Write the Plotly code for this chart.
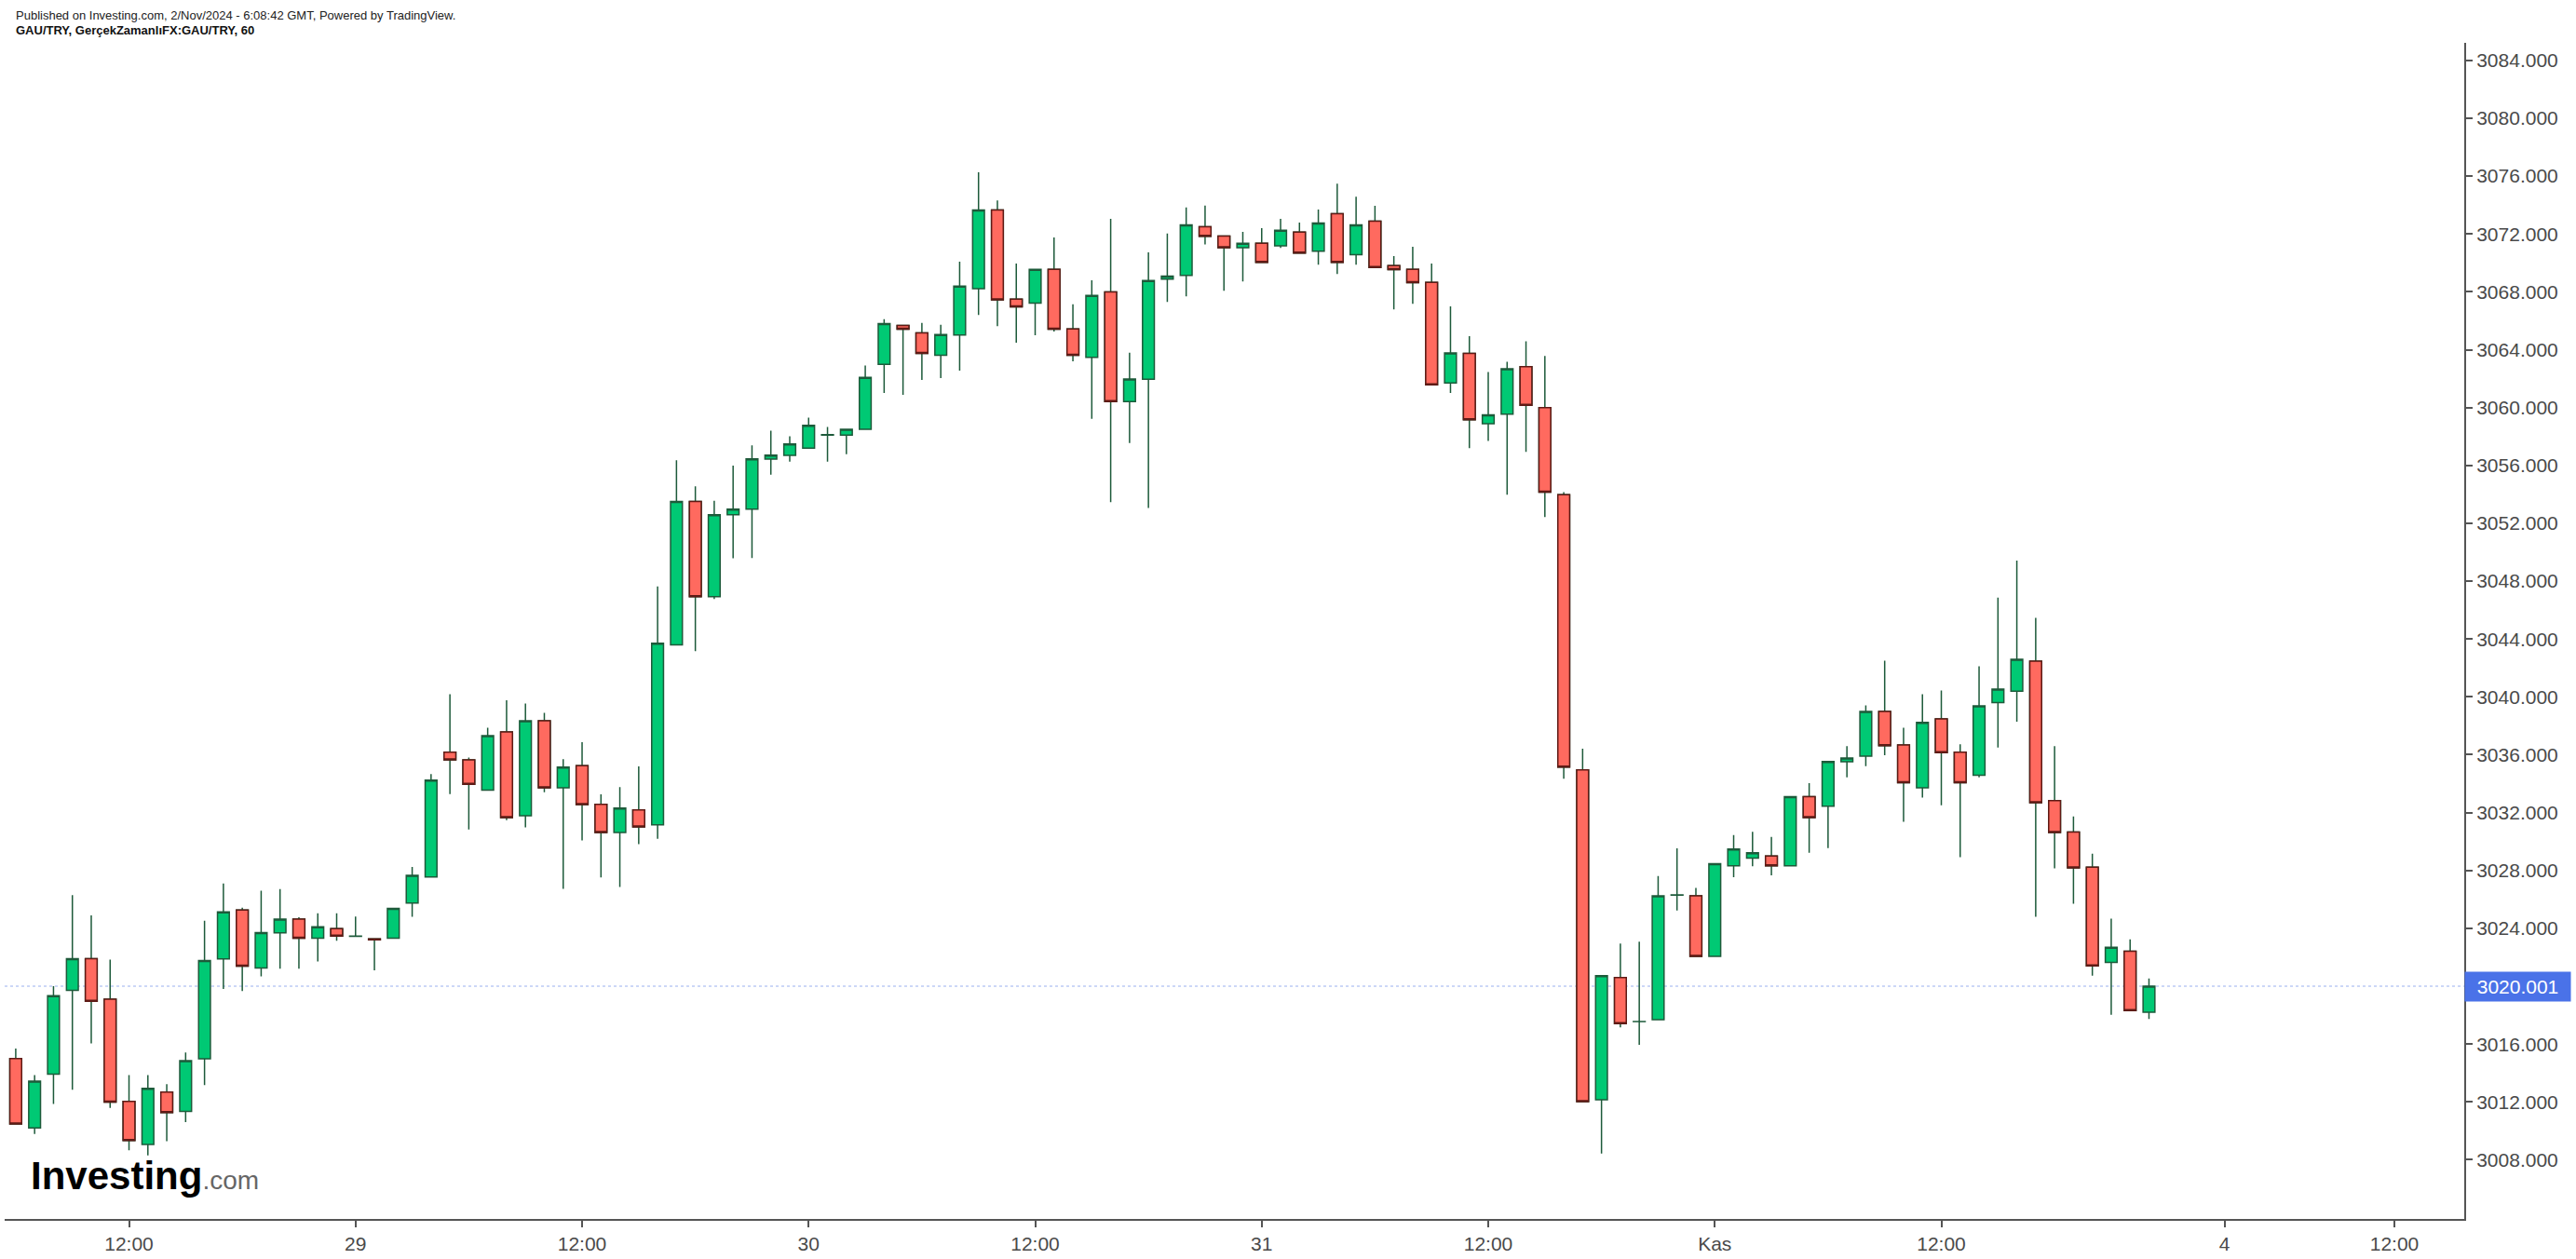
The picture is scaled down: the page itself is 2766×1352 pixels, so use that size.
import plotly.graph_objects as go

# ---- data (GAU/TRY, 60 min) ----
open_ = [3015.0, 3010.21, 3013.92, 3019.72, 3021.9, 3019.1, 3012.04, 3009.06, 3012.68, 3011.35,
         3014.98, 3021.88, 3025.27, 3021.26, 3023.69, 3024.63, 3023.32, 3023.98, 3023.44, 3023.27,
         3023.32, 3025.74, 3027.55, 3036.17, 3035.64, 3033.56, 3037.57, 3031.79, 3038.35, 3033.72,
         3035.25, 3032.57, 3030.62, 3032.18, 3031.15, 3043.6, 3053.5, 3046.92, 3052.59, 3052.97,
         3056.43, 3056.69, 3057.2, 3058.1, 3058.1, 3058.49, 3062.98, 3065.68, 3065.16, 3063.62,
         3065.01, 3068.22, 3073.66, 3067.5, 3067.22, 3069.55, 3065.44, 3063.47, 3067.99, 3060.41,
         3061.95, 3068.87, 3069.14, 3072.5, 3071.86, 3071.05, 3071.35, 3071.18, 3072.12, 3070.81,
         3073.4, 3070.56, 3072.89, 3069.81, 3069.55, 3068.65, 3061.7, 3063.74, 3058.88, 3059.54,
         3062.82, 3059.99, 3053.97, 3034.96, 3012.15, 3020.6, 3017.55, 3017.68, 3026.3, 3026.25,
         3022.06, 3028.33, 3028.86, 3029.0, 3028.33, 3033.11, 3032.44, 3035.51, 3035.9, 3038.99,
         3036.68, 3033.72, 3038.47, 3036.17, 3034.59, 3039.61, 3040.39, 3042.46, 3032.83, 3030.65,
         3028.22, 3021.64, 3022.42, 3018.2]
high = [3015.69, 3013.85, 3020.0, 3026.3, 3024.9, 3021.83, 3013.85, 3013.85, 3013.23, 3015.41,
        3024.53, 3027.1, 3025.43, 3026.6, 3026.71, 3024.76, 3025.04, 3025.04, 3024.81, 3023.3,
        3025.4, 3028.24, 3034.66, 3040.18, 3035.8, 3037.87, 3039.77, 3039.54, 3038.9, 3035.69,
        3036.86, 3033.26, 3033.76, 3035.19, 3047.63, 3056.35, 3054.56, 3053.55, 3055.98, 3057.38,
        3058.4, 3058.02, 3059.3, 3058.66, 3058.5, 3062.9, 3066.11, 3065.7, 3065.85, 3065.72,
        3070.08, 3076.27, 3074.32, 3069.96, 3069.55, 3071.75, 3067.13, 3068.8, 3073.04, 3063.79,
        3070.73, 3072.03, 3073.83, 3073.96, 3071.9, 3072.14, 3072.4, 3073.04, 3072.78, 3073.68,
        3075.48, 3074.58, 3073.94, 3070.47, 3071.11, 3069.96, 3067.0, 3064.94, 3062.46, 3063.17,
        3064.58, 3063.57, 3054.15, 3036.42, 3020.73, 3022.94, 3023.07, 3027.62, 3029.53, 3026.79,
        3028.47, 3030.45, 3030.68, 3030.32, 3033.11, 3034.04, 3035.55, 3036.59, 3039.41, 3042.5,
        3037.87, 3040.19, 3040.44, 3036.72, 3042.11, 3046.86, 3049.42, 3045.46, 3036.59, 3031.73,
        3029.16, 3024.67, 3023.24, 3020.54]
low = [3010.48, 3009.79, 3011.86, 3012.84, 3016.05, 3011.58, 3008.65, 3008.3, 3009.29, 3010.6,
       3013.16, 3019.81, 3019.67, 3020.68, 3021.21, 3021.21, 3021.71, 3023.14, 3023.44, 3021.1,
       3023.3, 3024.8, 3027.5, 3033.28, 3030.83, 3033.5, 3031.47, 3030.97, 3033.4, 3026.73,
       3030.07, 3027.51, 3026.86, 3029.82, 3030.19, 3043.6, 3043.16, 3046.76, 3049.58, 3049.6,
       3055.36, 3056.26, 3057.2, 3056.26, 3056.78, 3058.45, 3061.01, 3060.88, 3061.91, 3062.04,
       3062.55, 3066.4, 3065.63, 3064.48, 3064.99, 3065.25, 3063.2, 3059.22, 3053.46, 3057.55,
       3053.05, 3067.3, 3067.69, 3071.28, 3068.07, 3068.72, 3070.0, 3071.03, 3070.65, 3069.87,
       3069.23, 3069.87, 3069.65, 3066.79, 3067.17, 3061.55, 3061.01, 3057.2, 3057.69, 3053.97,
       3056.94, 3052.43, 3034.34, 3012.0, 3008.44, 3017.15, 3015.95, 3017.65, 3025.24, 3022.05,
       3022.05, 3027.54, 3028.29, 3027.67, 3028.3, 3029.22, 3029.55, 3034.43, 3035.21, 3035.97,
       3031.36, 3033.03, 3032.51, 3028.91, 3034.43, 3036.49, 3038.28, 3024.8, 3028.15, 3025.7,
       3020.72, 3018.02, 3018.3, 3017.74]
close = [3010.48, 3013.44, 3019.35, 3021.9, 3018.96, 3011.99, 3009.34, 3012.93, 3011.26, 3014.86,
         3021.78, 3025.13, 3021.39, 3023.71, 3024.63, 3023.32, 3024.1, 3023.46, 3023.46, 3023.2,
         3025.37, 3027.67, 3034.25, 3035.64, 3033.95, 3037.32, 3031.65, 3038.35, 3033.72, 3035.14,
         3032.55, 3030.62, 3032.32, 3031.01, 3043.71, 3053.5, 3046.92, 3052.59, 3052.98, 3056.45,
         3056.71, 3057.48, 3058.77, 3058.12, 3058.49, 3062.08, 3065.81, 3065.42, 3063.75, 3065.04,
         3068.39, 3073.66, 3067.45, 3066.96, 3069.55, 3065.42, 3063.62, 3067.75, 3060.41, 3061.98,
         3068.78, 3069.08, 3072.63, 3071.84, 3071.05, 3071.35, 3070.04, 3072.25, 3070.68, 3072.76,
         3070.04, 3072.63, 3069.68, 3069.53, 3068.63, 3061.57, 3063.77, 3059.15, 3059.5, 3062.68,
         3060.16, 3054.15, 3035.14, 3012.02, 3020.73, 3017.41, 3017.56, 3026.25, 3026.31, 3022.06,
         3028.47, 3029.48, 3029.22, 3028.33, 3033.11, 3031.65, 3035.53, 3035.78, 3038.99, 3036.63,
         3034.07, 3038.24, 3036.15, 3034.07, 3039.38, 3040.53, 3042.59, 3032.69, 3030.63, 3028.17,
         3021.41, 3022.69, 3018.32, 3020.001]

tick_pos = [6, 18, 30, 42, 54, 66, 78, 90, 102, 117, 126]
tick_text = ["12:00", "29", "12:00", "30", "12:00", "31", "12:00", "Kas", "12:00", "4", "12:00"]
price_ticks = [3008, 3012, 3016, 3020, 3024, 3028, 3032, 3036, 3040, 3044,
               3048, 3052, 3056, 3060, 3064, 3068, 3072, 3076, 3080, 3084]
last_price = 3020.001

header_1 = "Published on Investing.com, 2/Nov/2024 - 6:08:42 GMT, Powered by TradingView."
header_2 = "GAU/TRY, GerçekZamanlıFX:GAU/TRY, 60"

# ---- styles ----
GREEN = "#00c974"
RED = "#ff6a5f"
WICK = "#1d5a3a"
DARKRED = "#5e1a15"
AXIS = "#555555"
TXT = "#4a4a4a"
FONT = "Liberation Sans, Arial, sans-serif"

x = list(range(len(close)))
dec = [i for i in x if close[i] < open_[i]]

fig = go.Figure()
fig.add_trace(go.Candlestick(
    x=x, open=open_, high=high, low=low, close=close,
    increasing=dict(line=dict(color=WICK, width=1.5), fillcolor=GREEN),
    decreasing=dict(line=dict(color=WICK, width=1.5), fillcolor=RED),
    whiskerwidth=0, hoverinfo="skip", showlegend=False))
# red bodies with dark red border (wicks stay dark green)
fig.add_trace(go.Candlestick(
    x=[x[i] for i in dec], open=[open_[i] for i in dec], high=[open_[i] for i in dec],
    low=[close[i] for i in dec], close=[close[i] for i in dec],
    increasing=dict(line=dict(color=DARKRED, width=1.5), fillcolor=RED),
    decreasing=dict(line=dict(color=DARKRED, width=1.5), fillcolor=RED),
    whiskerwidth=0, hoverinfo="skip", showlegend=False))

fig.add_shape(type="line", xref="paper", x0=0, x1=1, yref="y", y0=last_price, y1=last_price,
              line=dict(color="#9bb0ee", width=1, dash="dot"), layer="below")

fig.update_layout(
    width=2766, height=1352,
    margin=dict(l=5, r=120, t=46, b=41),
    paper_bgcolor="white", plot_bgcolor="white",
    boxmode="overlay", boxgap=0.374, boxgroupgap=0,
    showlegend=False,
    font=dict(family=FONT),
    xaxis=dict(type="linear", range=[-0.587, 129.7], tickmode="array", tickvals=tick_pos,
               ticktext=tick_text, showgrid=False, zeroline=False, showline=True,
               linecolor=AXIS, linewidth=2, ticks="outside", ticklen=7, tickwidth=1.5,
               tickcolor=AXIS, tickfont=dict(size=21, color=TXT, family=FONT),
               rangeslider=dict(visible=False)),
    yaxis=dict(side="right", range=[3003.91, 3085.21], tickmode="array", tickvals=price_ticks,
               tickformat=".3f",
               showgrid=False, zeroline=False, showline=True, linecolor=AXIS, linewidth=2,
               ticks="outside", ticklen=7, tickwidth=1.5, tickcolor=AXIS,
               tickfont=dict(size=21, color=TXT, family=FONT)),
)

annotations = [
    dict(text=header_1, xref="paper", yref="paper", x=0.0038, y=1.0237, xanchor="left",
         yanchor="middle", showarrow=False, font=dict(size=13, color="#222222", family=FONT)),
    dict(text="<b>" + header_2 + "</b>", xref="paper", yref="paper", x=0.0038, y=1.0103,
         xanchor="left", yanchor="middle", showarrow=False,
         font=dict(size=13, color="#111111", family=FONT)),
    dict(text="<b>Investing</b><span style='font-size:28px;color:#666666'>.com</span>",
         xref="paper", yref="paper", x=0.0099, y=0.037, xanchor="left", yanchor="middle",
         showarrow=False, font=dict(size=42, color="#000000", family=FONT)),
    dict(text=f"{last_price:.3f}", xref="paper", yref="y", x=1, y=last_price, xanchor="left",
         yanchor="middle", showarrow=False, bgcolor="#4a72e8", borderpad=4, width=105, height=23,
         font=dict(size=21, color="white", family=FONT)),
]
fig.update_layout(annotations=annotations)

fig.write_html("out.html")
